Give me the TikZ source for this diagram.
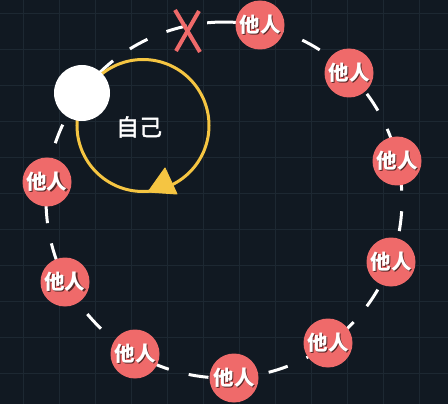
\documentclass[tikz,border=0pt]{standalone}
\usepackage{fontspec}
\setmainfont{Noto Sans CJK SC}
\newfontfamily\cjkmid{Noto Sans CJK SC}[FakeBold=2]
\definecolor{bg}{HTML}{111922}
\definecolor{gridc}{HTML}{1D2832}
\definecolor{otherc}{HTML}{EF6A6A}
\definecolor{loopc}{HTML}{F5C542}
\definecolor{shadowc}{HTML}{5A2828}
\newcommand\shadowedtext[1]{\makebox[0pt][l]{\hspace{1.2pt}\raisebox{-1.5pt}{\textcolor{shadowc}{#1}}}#1}
\begin{document}
\begin{tikzpicture}[x=1pt,y=-1pt,
  gridline/.style={draw=gridc,line width=1pt},
  ring/.style={draw=white,line width=3pt},
  other/.style={circle,fill=otherc,minimum size=49pt,inner sep=0pt,text=white,
    font=\fontsize{20.5}{20.5}\selectfont\bfseries},
  selfdot/.style={circle,fill=white,minimum size=56pt,inner sep=0pt},
  selflabel/.style={text=white,inner sep=0pt,font=\fontsize{23}{23}\selectfont\cjkmid},
  loopline/.style={draw=loopc,line width=3pt},
  looptip/.style={fill=loopc,draw=loopc,line width=1pt,line join=round},
  crossline/.style={draw=otherc,line width=4pt}
]
\fill[bg] (0,0) rectangle (448,404);
\useasboundingbox (0,0) rectangle (448,404);
\foreach \x in {23.3,59.3,95.3,131.3,167.3,203.3,239.3,275.3,311.3,347.3,383.3,419.3}
  \draw[gridline] (\x,0) -- (\x,404);
\foreach \y in {13.3,49.3,85.3,121.3,157.3,193.3,229.3,265.3,301.3,337.3,373.3}
  \draw[gridline] (0,\y) -- (448,\y);
% ring of others: one dashed arc from each place to the next
\coordinate (ringc) at (224,200);
\foreach \a/\b/\p/\d in {20.4/54.0/10.1/20, 54.0/86.8/34.5/20, 86.8/120.0/15.1/20,
    120.0/152.7/38.6/20, 152.7/185.8/19.6/20, 185.8/217.0/0.8/20, 217.0/257.8/15.7/20,
    257.8/281.6/29.6/30, 281.6/314.55/36.2/20, 314.55/347.3/13.1/20, 347.3/380.4/30.5/20}
  \draw[ring,dash pattern=on \d pt off 20.6pt,dash phase=\p pt]
    (ringc) ++(\a:178) arc[start angle=\a, end angle=\b, radius=178];
% self loop
\coordinate (loopcenter) at (143,125.5);
\draw[loopline] (loopcenter) circle[radius=66];
\coordinate (tipa) at (165,168);
\coordinate (tipb) at (177,194);
\coordinate (tipc) at (148,192);
\filldraw[looptip] (tipa) -- (tipb) -- (tipc) -- cycle;
% removed one
\coordinate (crossa) at (175,10);
\coordinate (crossb) at (200,52);
\coordinate (crossc) at (199,11);
\coordinate (crossd) at (176,51);
\draw[crossline] (crossa) -- (crossb);
\draw[crossline] (crossc) -- (crossd);
% self
\node[selfdot] (self) at (82,93) {};
\node[selflabel] (selfname) at (139,127) {自己};
% others
\node[other] (o1) at (260,25) {\shadowedtext{他人}};
\node[other] (o2) at (349,73) {\shadowedtext{他人}};
\node[other] (o3) at (397,161) {\shadowedtext{他人}};
\node[other] (o4) at (391,262) {\shadowedtext{他人}};
\node[other] (o5) at (328,343) {\shadowedtext{他人}};
\node[other] (o6) at (234,378) {\shadowedtext{他人}};
\node[other] (o7) at (135,354) {\shadowedtext{他人}};
\node[other] (o8) at (65,282) {\shadowedtext{他人}};
\node[other] (o9) at (47,182) {\shadowedtext{他人}};
\end{tikzpicture}
\end{document}
